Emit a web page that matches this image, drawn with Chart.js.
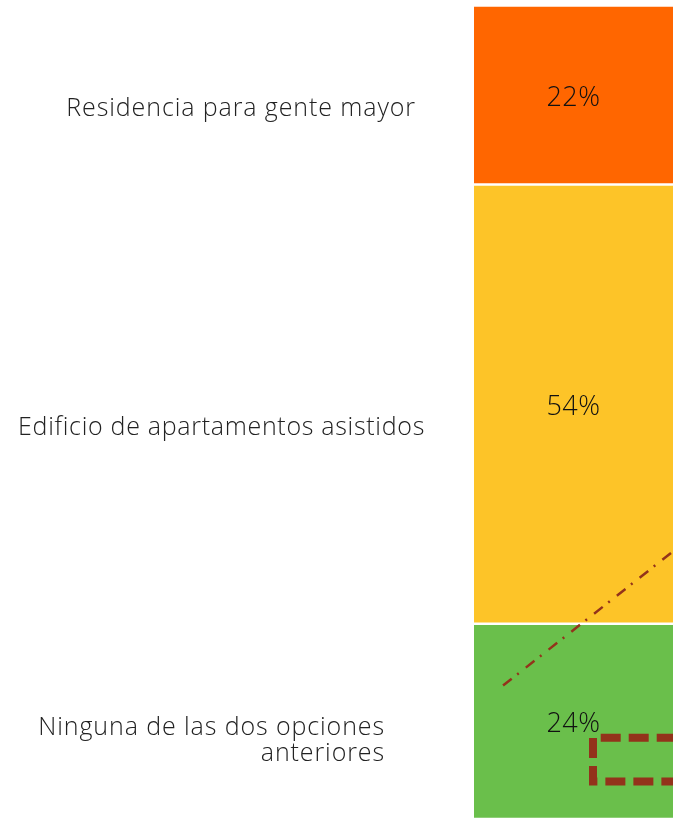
<!DOCTYPE html>
<html>
<head>
<meta charset="utf-8">
<script src="https://cdn.jsdelivr.net/npm/chart.js@4.4.1/dist/chart.umd.min.js"></script>
<style>
  html, body { margin: 0; padding: 0; background: #ffffff; }
  #wrap { width: 674px; height: 819px; position: relative; }
</style>
</head>
<body>
<div id="wrap"><canvas id="c" width="674" height="819"></canvas></div>
<script>
// ---- data ----
const categories = ["Total"];
const seriesNames = [
  ["Residencia para gente mayor"],
  ["Edificio de apartamentos asistidos"],
  ["Ninguna de las dos opciones", "anteriores"]
];
const seriesValues = [22, 54, 24];
const seriesColors = ["#ff6600", "#fdc428", "#6abf4b"];

// label placement tweaks (style, not data)
const labelRightGap = [58, 49, 89];
const labelYShift = [14, 24, 19];
const labelSpacing = ['0.9px', '0.7px', '0.9px'];

const FONT = "'Open Sans', Lato, sans-serif";
const ANNOT = "#93331b";

const sideLabels = {
  id: 'sideLabels',
  afterDatasetsDraw(chart) {
    const ctx = chart.ctx;
    ctx.save();
    chart.data.datasets.forEach((ds, i) => {
      const el = chart.getDatasetMeta(i).data[0];
      const top = Math.min(el.y, el.base), bot = Math.max(el.y, el.base);
      const cy = (top + bot) / 2;
      const left = el.x - el.width / 2;
      // percentage inside the bar
      ctx.fillStyle = '#111111';
      ctx.font = "300 27px " + FONT;
      ctx.letterSpacing = '0.5px';
      ctx.textAlign = 'center';
      ctx.textBaseline = 'middle';
      ctx.fillText(ds.data[0] + '%', el.x, cy + 3);
      // category label at left
      const lines = seriesNames[i];
      ctx.fillStyle = '#222222';
      ctx.font = "300 25px " + FONT;
      ctx.letterSpacing = labelSpacing[i];
      ctx.textAlign = 'right';
      const lh = 26;
      const y0 = cy + labelYShift[i] - (lines.length - 1) * lh / 2;
      lines.forEach((t, k) => ctx.fillText(t, left - labelRightGap[i], y0 + k * lh));
    });
    ctx.restore();
  }
};

const annotations = {
  id: 'annotations',
  afterDraw(chart) {
    const ctx = chart.ctx, y = chart.scales.y, a = chart.chartArea;
    const el = chart.getDatasetMeta(0).data[0];
    const left = el.x - el.width / 2, w = el.width;
    const px = f => left + f * w;
    ctx.save();
    ctx.beginPath();
    ctx.rect(a.left, a.top, a.right - a.left, a.bottom - a.top);
    ctx.clip();
    ctx.strokeStyle = ANNOT;
    // dash-dot line
    ctx.lineWidth = 2.5;
    ctx.setLineDash([11, 7, 2, 9]);
    ctx.beginPath();
    ctx.moveTo(px(0.146), y.getPixelForValue(83.6));
    ctx.lineTo(px(1.0), y.getPixelForValue(67.1));
    ctx.stroke();
    // dashed rectangle
    ctx.lineWidth = 8;
    ctx.setLineDash([20, 8]);
    const rx = px(0.598), ry = y.getPixelForValue(90.0), rb = y.getPixelForValue(95.4);
    ctx.beginPath();
    ctx.moveTo(px(1.3), ry);
    ctx.lineTo(rx, ry);
    ctx.lineTo(rx, rb);
    ctx.lineTo(px(1.3), rb);
    ctx.stroke();
    ctx.restore();
  }
};

new Chart(document.getElementById('c'), {
  type: 'bar',
  data: {
    labels: categories,
    datasets: seriesValues.map((v, i) => ({
      label: seriesNames[i].join(' '),
      data: [v],
      backgroundColor: seriesColors[i],
      borderColor: '#ffffff',
      borderWidth: { top: 1.5, bottom: 1.5, left: 0, right: 0 },
      borderSkipped: false,
      barPercentage: 1,
      categoryPercentage: 1
    }))
  },
  options: {
    responsive: false,
    animation: false,
    layout: { padding: { left: 474, right: 1, top: 5.5, bottom: -0.5 } },
    plugins: { legend: { display: false }, tooltip: { enabled: false } },
    scales: {
      x: { display: false, stacked: true },
      y: { display: false, stacked: true, min: 0, max: 100, reverse: true }
    }
  },
  plugins: [sideLabels, annotations]
});
</script>
</body>
</html>
